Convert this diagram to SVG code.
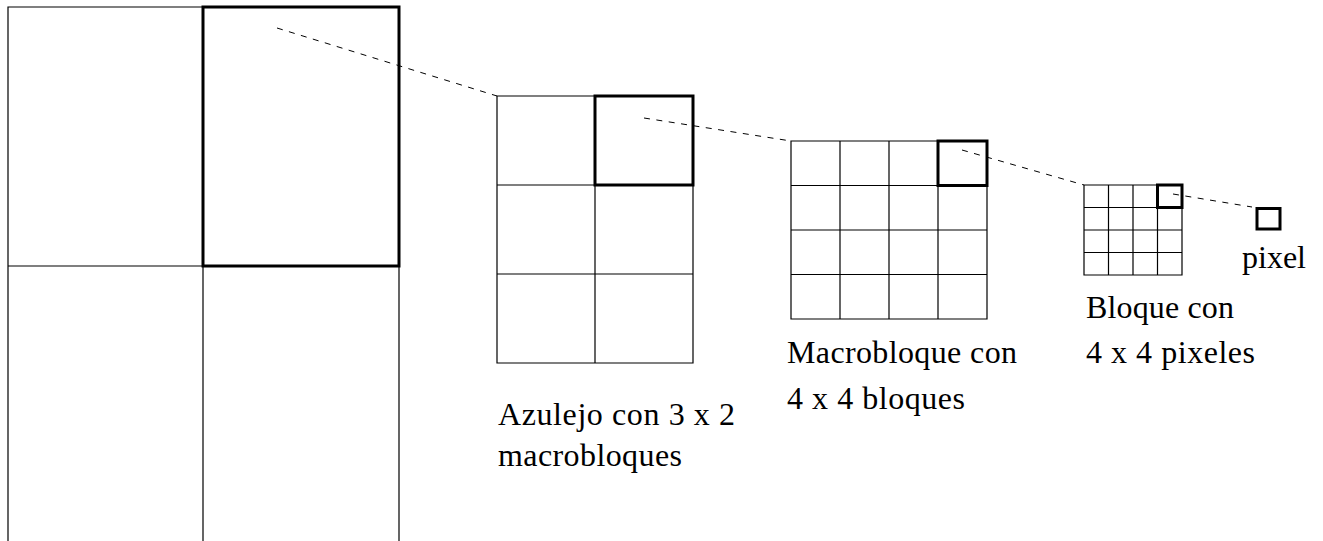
<svg xmlns="http://www.w3.org/2000/svg" width="1323" height="541" viewBox="0 0 1323 541">
<style>
.thin{fill:none;stroke:#000;stroke-width:1.2}
.bold{fill:none;stroke:#000;stroke-width:3}
.dash{fill:none;stroke:#000;stroke-width:1;stroke-dasharray:6 6.5}
.lbl{font-family:"Liberation Serif","Times New Roman",serif;font-size:32px;fill:#000}
</style>
<rect width="1323" height="541" fill="#fff"/>
<g id="imagen">
<path class="thin" d="M8,541V7H399V541M203,7V541M8,266H399"/>
<rect class="bold" x="203" y="7" width="196" height="259"/>
</g>
<g id="azulejo">
<path class="thin" d="M497,96H693V363H497ZM595,96V363M497,185H693M497,274H693"/>
<rect class="bold" x="595" y="96" width="98" height="89"/>
<text class="lbl" x="498" y="425" textLength="237" lengthAdjust="spacing">Azulejo con 3 x 2</text>
<text class="lbl" x="498" y="466" textLength="184" lengthAdjust="spacing">macrobloques</text>
</g>
<g id="macrobloque">
<path class="thin" d="M791,141H987V319H791ZM840,141V319M889,141V319M938,141V319M791,185.5H987M791,230H987M791,274.5H987"/>
<rect class="bold" x="938" y="141" width="49" height="44.5"/>
<text class="lbl" x="787" y="363" textLength="230" lengthAdjust="spacing">Macrobloque con</text>
<text class="lbl" x="787" y="409" textLength="178" lengthAdjust="spacing">4 x 4 bloques</text>
</g>
<g id="bloque">
<path class="thin" d="M1084,185H1182V275H1084ZM1108.5,185V275M1133,185V275M1157.5,185V275M1084,207.5H1182M1084,230H1182M1084,252.5H1182"/>
<rect class="bold" x="1157.5" y="185" width="24.5" height="22.5"/>
<text class="lbl" x="1086" y="318" textLength="148" lengthAdjust="spacing">Bloque con</text>
<text class="lbl" x="1086" y="363" textLength="169" lengthAdjust="spacing">4 x 4 pixeles</text>
</g>
<g id="pixel">
<rect class="bold" x="1257" y="208.5" width="23" height="20.5"/>
<text class="lbl" x="1242" y="268" textLength="64" lengthAdjust="spacing">pixel</text>
</g>
<g id="connectors">
<line class="dash" x1="277" y1="28" x2="497" y2="96"/>
<line class="dash" x1="644" y1="118" x2="791" y2="141"/>
<line class="dash" x1="962" y1="150" x2="1084" y2="185"/>
<line class="dash" x1="1173" y1="194" x2="1252" y2="207"/>
</g>
</svg>
